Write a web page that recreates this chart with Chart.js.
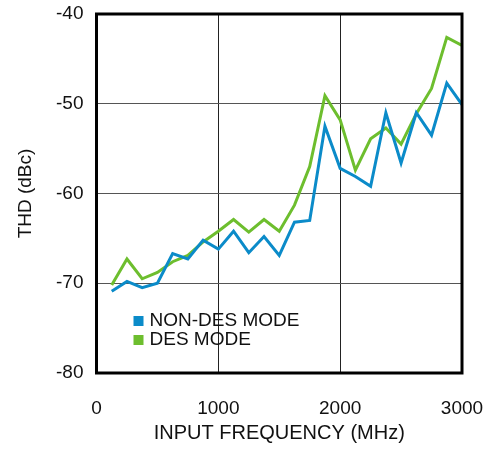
<!DOCTYPE html>
<html>
<head>
<meta charset="utf-8">
<script src="https://cdn.jsdelivr.net/npm/chart.js@4"></script>
<style>
  html, body { margin: 0; padding: 0; background: #fff; }
  #wrap { width: 492px; height: 449px; }
</style>
</head>
<body>
<div id="wrap"><canvas id="chart" width="492" height="449"></canvas></div>
<script>
const freqs = [125, 250, 375, 500, 625, 750, 875, 1000, 1125, 1250, 1375, 1500,
  1625, 1750, 1875, 2000, 2125, 2250, 2375, 2500, 2625, 2750, 2875, 3000];
const nonDes = [-70.9, -69.8, -70.5, -70.0, -66.7, -67.3, -65.2, -66.2, -64.2, -66.6, -64.8, -66.9,
  -63.2, -63.0, -52.5, -57.2, -58.1, -59.2, -51.0, -56.6, -51.0, -53.5, -47.7, -50.1];
const des = [-70.2, -67.3, -69.5, -68.8, -67.6, -66.9, -65.4, -64.2, -62.9, -64.3, -62.9, -64.2,
  -61.3, -57.0, -49.1, -51.8, -57.4, -53.9, -52.7, -54.5, -51.1, -48.3, -42.6, -43.5];
const seriesLabels = ["NON-DES MODE", "DES MODE"];
const xTicks = [0, 1000, 2000, 3000];
const yTicks = [-80, -70, -60, -50, -40];

const FONT = "'Liberation Sans', Arial, sans-serif";
const toPoints = vals => vals.map((v, i) => ({ x: freqs[i], y: v }));

// frame around the plot + legend inside the plot
const framePlugin = {
  id: "frame",
  afterDraw(chart) {
    const { ctx, chartArea: a } = chart;
    ctx.save();
    ctx.strokeStyle = "#000";
    ctx.lineWidth = 3;
    ctx.strokeRect(a.left, a.top, a.right - a.left, a.bottom - a.top);

    ctx.font = "19px " + FONT;
    ctx.textBaseline = "middle";
    chart.data.datasets.forEach((ds, i) => {
      const y = a.top + 307 + i * 19;
      ctx.fillStyle = ds.borderColor;
      ctx.fillRect(a.left + 37, y - 5, 10, 10);
      ctx.fillStyle = "#111";
      ctx.fillText(ds.label, a.left + 53, y);
    });
    ctx.restore();
  }
};

new Chart(document.getElementById("chart"), {
  type: "line",
  data: {
    datasets: [
      { label: seriesLabels[0], data: toPoints(nonDes), borderColor: "#0b8bc9" },
      { label: seriesLabels[1], data: toPoints(des), borderColor: "#6dbe2e" }
    ]
  },
  options: {
    responsive: false,
    animation: false,
    layout: { padding: { left: 0, right: 30, top: 14, bottom: 0 } },
    elements: {
      point: { radius: 0 },
      line: { borderWidth: 3, tension: 0, borderJoinStyle: "miter" }
    },
    plugins: { legend: { display: false }, tooltip: { enabled: false } },
    scales: {
      x: {
        type: "linear",
        min: 0,
        max: 3000,
        afterBuildTicks: s => { s.ticks = xTicks.map(v => ({ value: v })); },
        afterFit: s => { s.height = 76; s.paddingLeft = 0; s.paddingRight = 0; },
        grid: { color: "#222", lineWidth: 1, drawTicks: false },
        border: { display: false },
        ticks: {
          color: "#111", padding: 24, maxRotation: 0,
          callback: v => String(v),
          font: { family: FONT, size: 19 }
        },
        title: {
          display: true,
          text: "INPUT FREQUENCY (MHz)",
          color: "#111",
          padding: { top: 2 },
          font: { family: FONT, size: 20 }
        }
      },
      y: {
        min: -80,
        max: -40,
        afterBuildTicks: s => { s.ticks = yTicks.map(v => ({ value: v })); },
        afterFit: s => { s.width = 96.5; s.paddingTop = 0; s.paddingBottom = 0; },
        grid: { color: "#555", lineWidth: 1, drawTicks: false },
        border: { display: false },
        ticks: { color: "#111", padding: 13, callback: v => String(v), font: { family: FONT, size: 19 } },
        title: {
          display: true,
          text: "THD (dBc)",
          color: "#111",
          padding: { top: 14, bottom: 0 },
          font: { family: FONT, size: 19 }
        }
      }
    }
  },
  plugins: [framePlugin]
});
</script>
</body>
</html>
